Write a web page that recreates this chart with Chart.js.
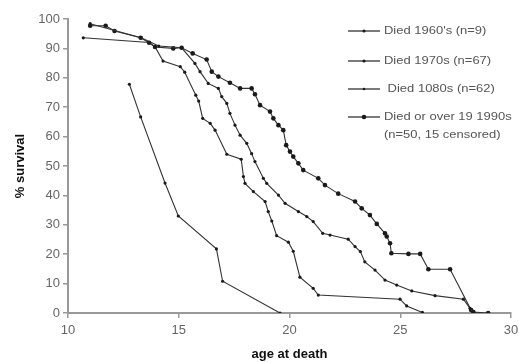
<!DOCTYPE html>
<html>
<head>
<meta charset="utf-8">
<script src="https://cdn.jsdelivr.net/npm/chart.js@4/dist/chart.umd.min.js"></script>
<style>
  html, body { margin: 0; padding: 0; background: #fff; }
  #wrap { width: 519px; height: 362px; position: relative; }
</style>
</head>
<body>
<div id="wrap"><canvas id="myChart"></canvas></div>
<script>
// ages (x) and % survival (y)
let age60 = [12.77, 13.28, 14.38, 14.98, 16.7, 16.98, 19.57];
let surv60 = [77.8, 66.7, 44.2, 33.0, 21.8, 10.8, 0];

let age70 = [10.69, 13.67, 13.93, 14.29, 15.07, 15.27, 15.77, 15.9, 16.08, 16.42, 16.64, 17.17, 17.82, 17.92, 17.99,
  18.37, 18.9, 19.04, 19.2, 19.42, 19.95, 20.17, 20.47, 21.07, 21.3, 24.99, 25.29, 26.0];
let surv70 = [93.6, 92.0, 90.5, 85.7, 83.8, 81.9, 74.1, 72.1, 66.2, 64.5, 62.2, 54.0, 52.3, 46.4, 44.1,
  41.3, 37.9, 34.5, 31.3, 26.3, 24.1, 21.0, 12.2, 8.4, 6.1, 4.7, 2.4, 0.2];

let age80 = [11.0, 13.3, 14.1, 15.13, 15.73, 15.96, 16.33, 16.79, 16.94, 17.17, 17.31, 17.54, 17.77, 18.07, 18.29,
  18.44, 18.82, 18.97, 19.5, 19.8, 20.4, 20.78, 21.07, 21.5, 21.83, 22.65, 22.96, 23.2, 23.4, 23.86, 24.31,
  24.84, 25.52, 26.57, 27.85, 28.15, 28.3];
let surv80 = [98.4, 93.6, 90.8, 90.2, 84.9, 82.1, 78.1, 76.4, 73.6, 71.3, 67.9, 63.9, 60.5, 57.7, 54.2,
  51.5, 45.8, 44.1, 40.1, 37.3, 34.5, 32.8, 31.1, 27.1, 26.5, 25.1, 22.6, 20.9, 17.4, 14.6, 11.2,
  9.5, 7.5, 5.9, 4.7, 1.6, 0.4];

let age90 = [11.0, 11.7, 12.1, 13.28, 13.66, 13.93, 14.75, 15.13, 15.63, 16.26, 16.49, 16.79, 17.31, 17.77, 18.29,
  18.44, 18.67, 19.12, 19.27, 19.5, 19.72, 19.85, 20.02, 20.17, 20.4, 20.62, 21.3, 21.6, 22.2, 22.96, 23.26,
  23.63, 23.94, 24.31, 24.39, 24.54, 24.6, 25.37, 25.9, 26.27, 27.25, 28.2, 28.3, 28.97];
let surv90 = [97.7, 97.7, 95.9, 93.6, 91.9, 90.5, 90.0, 90.2, 88.3, 86.2, 82.1, 80.4, 78.3, 76.4, 76.4,
  74.4, 70.7, 68.5, 66.2, 63.9, 62.2, 57.1, 54.9, 53.2, 50.9, 48.6, 45.8, 43.5, 40.6, 37.9, 35.6,
  33.3, 30.3, 27.1, 26.0, 23.7, 20.3, 20.1, 20.1, 14.9, 14.9, 1.0, 0.3, 0];

let seriesNames = ["Died 1960's (n=9)", "Died 1970s (n=67)", " Died 1080s (n=62)", ["Died or over 19 1990s", "(n=50, 15 censored)"]];
let xTicks = [10, 15, 20, 25, 30];

function toPoints(ages, survs) {
  let pts = [];
  for (let i = 0; i < ages.length; i++) {
    pts.push({ x: ages[i], y: survs[i] });
  }
  return pts;
}

function makeSet(ages, survs, radius) {
  return {
    data: toPoints(ages, survs),
    borderColor: "#333",
    backgroundColor: "#1a1a1a",
    borderWidth: 1.1,
    pointRadius: radius,
    pointBorderWidth: 0,
    tension: 0,
  };
}

// legend drawn by hand so it sits inside the plot like the original
const sideLegend = {
  id: "sideLegend",
  afterDraw(chart) {
    let ctx = chart.ctx;
    let rows = [31, 61, 89, 117];
    let radii = [1.6, 1.6, 1.3, 2.3];
    ctx.save();
    ctx.textBaseline = "middle";
    for (let i = 0; i < seriesNames.length; i++) {
      let y = rows[i];
      ctx.strokeStyle = "#333";
      ctx.lineWidth = 1.3;
      ctx.beginPath();
      ctx.moveTo(348, y);
      ctx.lineTo(380, y);
      ctx.stroke();
      ctx.fillStyle = "#1a1a1a";
      ctx.beginPath();
      ctx.arc(364, y, radii[i], 0, Math.PI * 2);
      ctx.fill();

      // text in the original is a bit wide, so stretch it sideways
      ctx.save();
      ctx.translate(384, y);
      ctx.scale(1.18, 1);
      ctx.font = "11px 'Liberation Sans', Arial, sans-serif";
      ctx.fillStyle = "#555";
      let label = seriesNames[i];
      if (Array.isArray(label)) {
        ctx.fillText(label[0], 0, 0);
        ctx.fillText(label[1], 0, 18);
      } else {
        ctx.fillText(label, 0, 0);
      }
      ctx.restore();
    }
    ctx.restore();
  },
};

const ctx = document.getElementById("myChart");

new Chart(ctx, {
  type: "line",
  data: {
    datasets: [
      makeSet(age60, surv60, 1.6),
      makeSet(age70, surv70, 1.6),
      makeSet(age80, surv80, 1.6),
      makeSet(age90, surv90, 2.3),
    ],
  },
  options: {
    responsive: true,
    maintainAspectRatio: false,
    animation: false,
    layout: {
      padding: { top: 19, right: 8, left: 13, bottom: 0 },
    },
    scales: {
      x: {
        type: "linear",
        min: 10,
        max: 30,
        afterBuildTicks: (scale) => {
          scale.ticks = xTicks.map((v) => ({ value: v }));
        },
        afterFit: (scale) => {
          scale.height = 49;
          scale.paddingLeft = 0;
          scale.paddingRight = 0;
        },
        grid: {
          drawOnChartArea: false,
          drawTicks: true,
          tickLength: 5,
          color: "#999",
          lineWidth: 1.5,
        },
        border: { color: "#999", width: 2 },
        ticks: {
          color: "#666",
          font: { size: 13, family: "'Liberation Sans', Arial, sans-serif" },
          padding: 5,
          maxRotation: 0,
        },
        title: {
          display: true,
          text: "age at death",
          color: "#111",
          font: { size: 13, weight: "bold", family: "'Liberation Sans', Arial, sans-serif" },
          padding: { top: 1, bottom: 0 },
        },
      },
      y: {
        min: 0,
        max: 100,
        afterFit: (scale) => {
          scale.width = 55;
        },
        grid: {
          drawOnChartArea: false,
          drawTicks: true,
          tickLength: 5,
          color: "#999",
          lineWidth: 1.5,
        },
        border: { color: "#999", width: 2 },
        ticks: {
          stepSize: 10,
          color: "#666",
          font: { size: 13, family: "'Liberation Sans', Arial, sans-serif" },
          padding: 3,
        },
        title: {
          display: true,
          text: "% survival",
          color: "#111",
          font: { size: 13, weight: "bold", family: "'Liberation Sans', Arial, sans-serif" },
          padding: { top: 0, bottom: 4 },
        },
      },
    },
    plugins: {
      legend: { display: false },
      tooltip: { enabled: false },
    },
  },
  plugins: [sideLegend],
});
</script>
</body>
</html>
